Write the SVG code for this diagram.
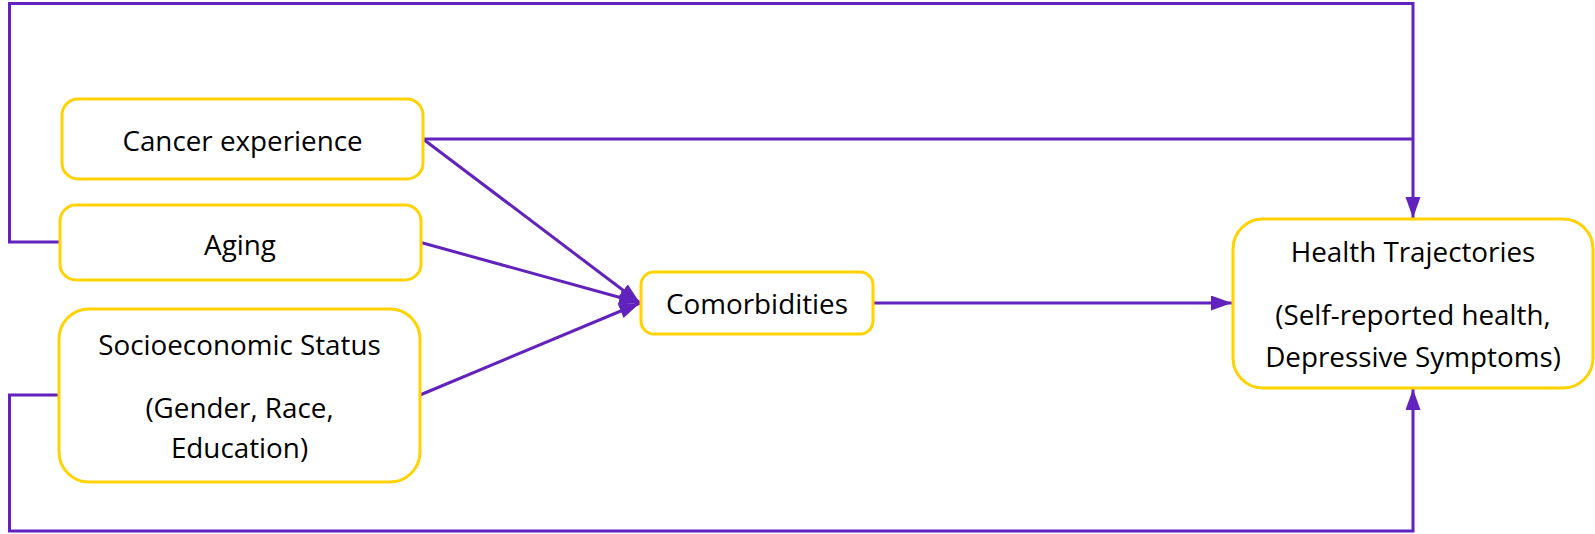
<svg xmlns="http://www.w3.org/2000/svg" width="1595" height="534" viewBox="0 0 1595 534">
  <style>
    .box { fill: #ffffff; stroke: #FFD200; stroke-width: 3; }
    .lbl { font-family: "Open Sans", "Liberation Sans", sans-serif; font-size: 27.8px; fill: #000000; text-anchor: middle; }
    .edge { fill: none; stroke: #6222BE; stroke-width: 3; stroke-linejoin: miter; }
    .arrow { stroke: #6222BE; stroke-width: 3; fill: none; marker-end: url(#head); }
  </style>
  <defs>
    <marker id="head" markerUnits="userSpaceOnUse" markerWidth="22" markerHeight="16" refX="21" refY="7.5" orient="auto">
      <path d="M0,0 L21,7.5 L0,15 Z" fill="#6222BE"/>
    </marker>
  </defs>
  <rect width="1595" height="534" fill="#ffffff"/>

  <!-- connectors -->
  <g id="connectors">
    <!-- Aging: loop over the top into Health Trajectories -->
    <path class="arrow" d="M60,242 H9.5 V3.5 H1413 V218"/>
    <!-- Cancer experience joins the top loop -->
    <path class="edge" d="M423,139 H1413"/>
    <!-- Cancer experience to Comorbidities -->
    <path class="arrow" d="M423,139 L640,303"/>
    <!-- Aging to Comorbidities -->
    <path class="arrow" d="M421,242.5 L640,303"/>
    <!-- Socioeconomic Status to Comorbidities -->
    <path class="arrow" d="M420,395 L640,303"/>
    <!-- Socioeconomic Status: loop along the bottom into Health Trajectories -->
    <path class="arrow" d="M59,395 H9.5 V531 H1413 V389"/>
    <!-- Comorbidities to Health Trajectories -->
    <path class="arrow" d="M873,303 H1232"/>
  </g>

  <g id="cancer">
    <rect class="box" x="62" y="99" width="361" height="80" rx="16"/>
    <text class="lbl" x="242.5" y="151">Cancer experience</text>
  </g>

  <g id="aging">
    <rect class="box" x="60" y="205" width="361" height="75" rx="16"/>
    <text class="lbl" x="240" y="255">Aging</text>
  </g>

  <g id="ses">
    <rect class="box" x="59" y="309" width="361" height="173" rx="30"/>
    <text class="lbl" x="239.5" y="355">Socioeconomic Status</text>
    <text class="lbl" x="239.5" y="417.5">(Gender, Race,</text>
    <text class="lbl" x="239.5" y="457.5">Education)</text>
  </g>

  <g id="comorbidities">
    <rect class="box" x="641" y="272" width="232" height="62" rx="13"/>
    <text class="lbl" x="757" y="314">Comorbidities</text>
  </g>

  <g id="health">
    <rect class="box" x="1233" y="219" width="360" height="169" rx="30"/>
    <text class="lbl" x="1413" y="261.5">Health Trajectories</text>
    <text class="lbl" x="1413" y="325">(Self-reported health,</text>
    <text class="lbl" x="1413" y="367">Depressive Symptoms)</text>
  </g>
</svg>
